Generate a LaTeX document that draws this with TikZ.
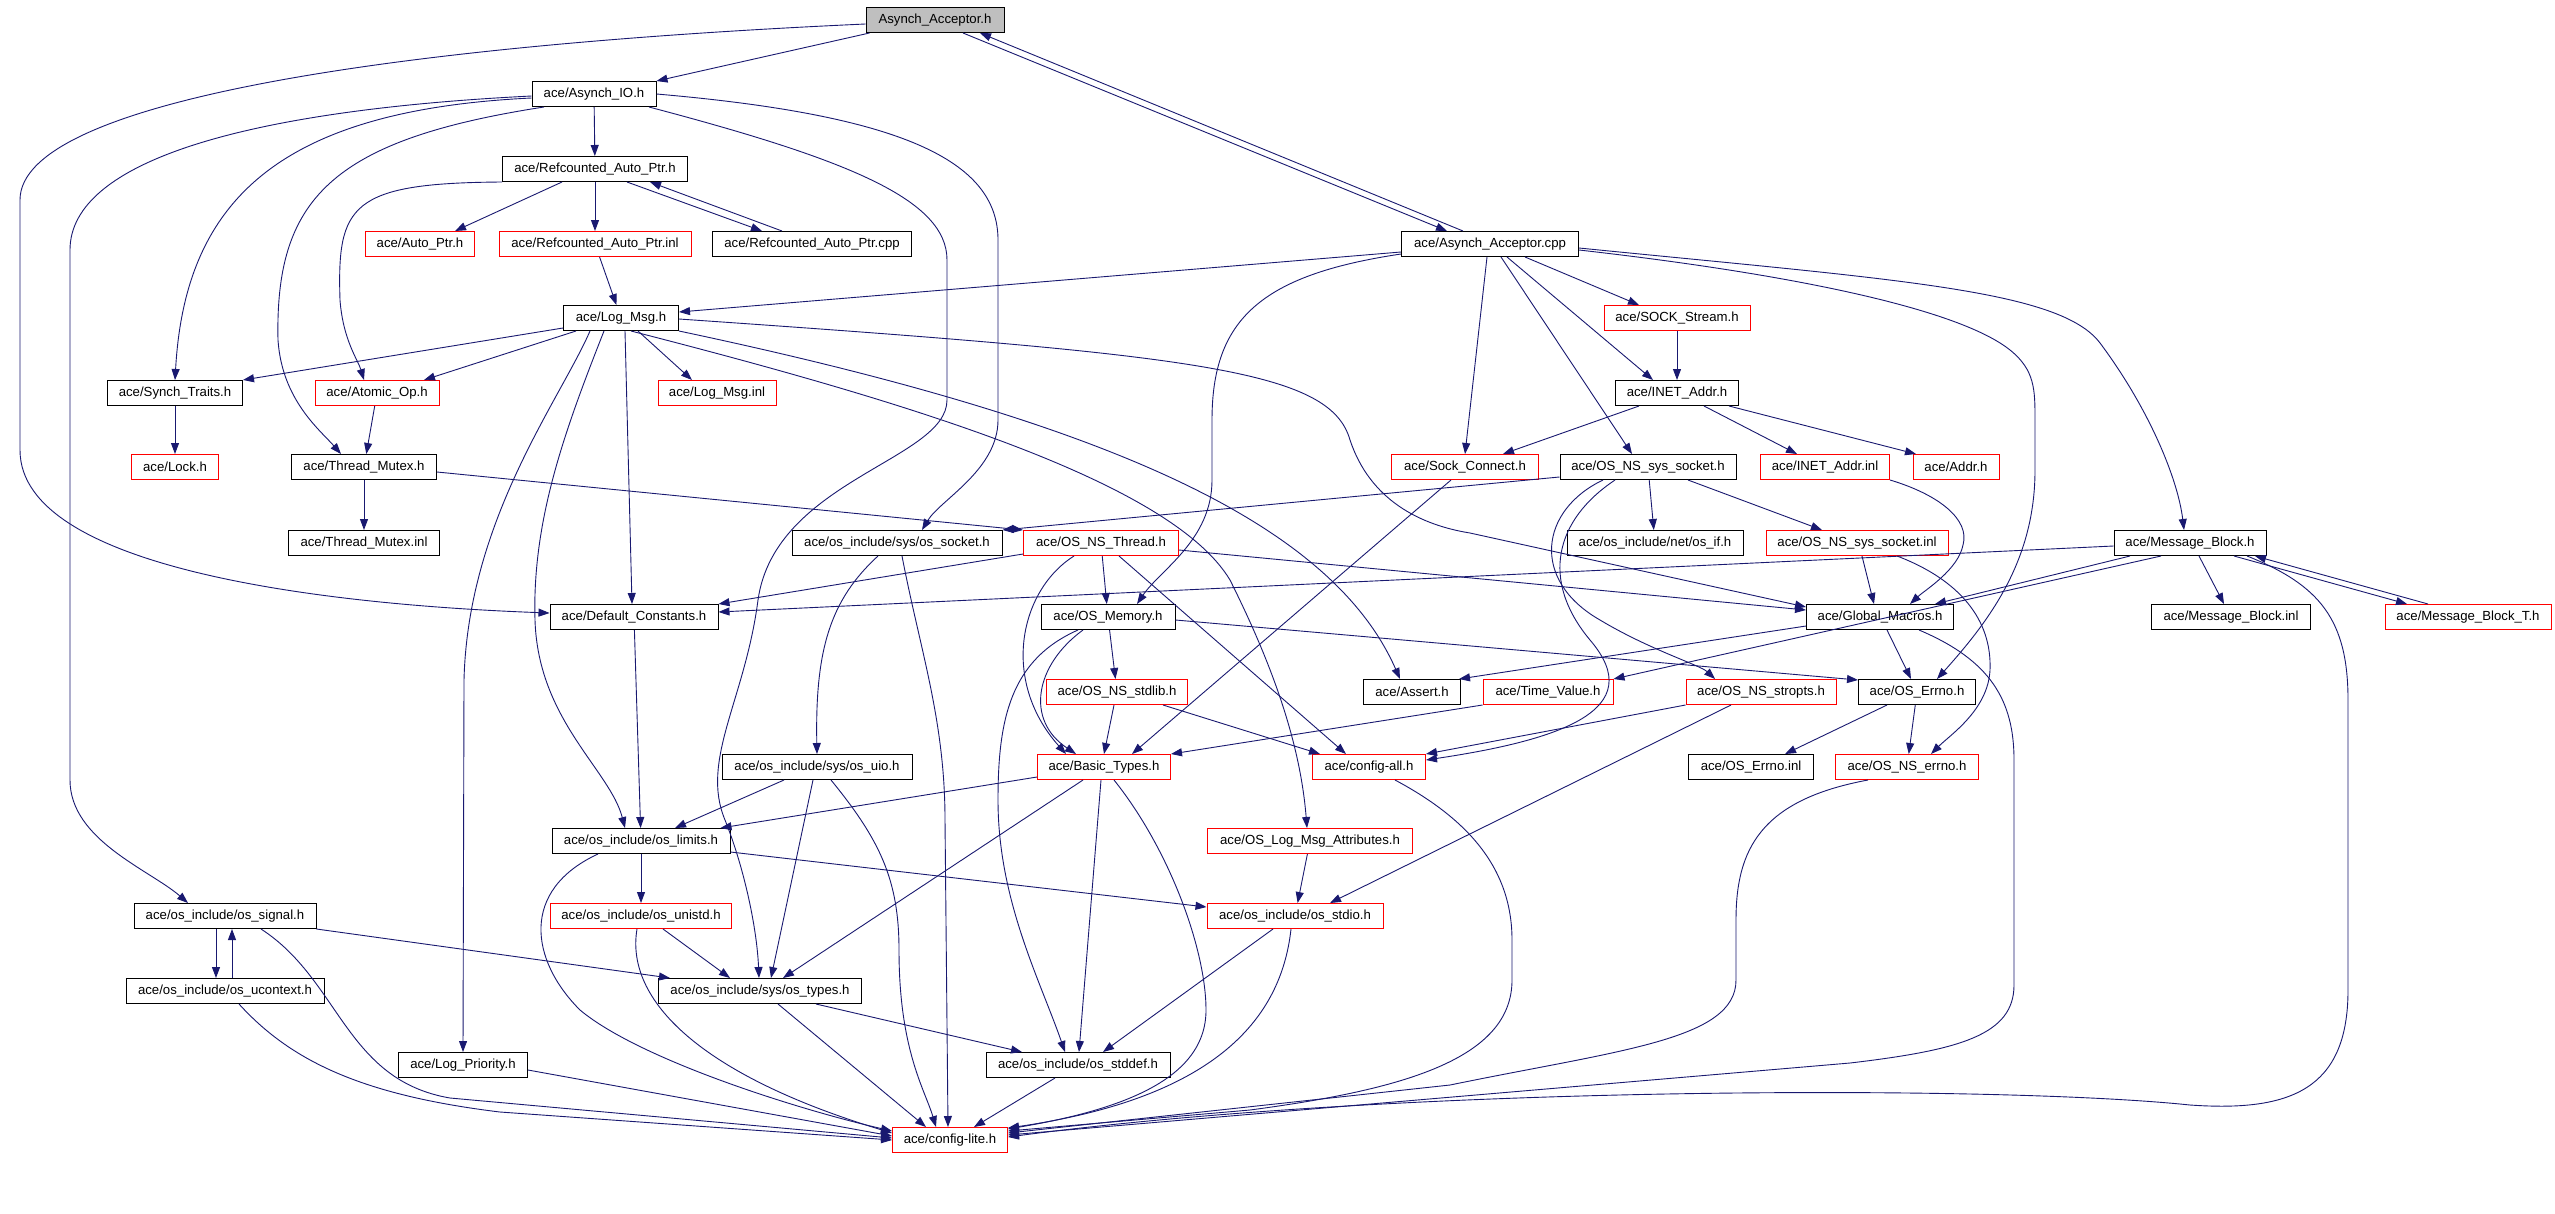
\documentclass[tikz,border=0pt]{standalone}
\usepackage{fontspec}
\setmainfont{Liberation Sans}
\usetikzlibrary{arrows.meta}
\definecolor{mblue}{HTML}{191970}
\definecolor{boxgray}{HTML}{BFBFBF}
\newcommand\nodefont{\fontsize{13.2}{15}\selectfont}
\begin{document}
\begin{tikzpicture}[x=1pt,y=-1pt,
  box/.style={draw=black,fill=white,line width=1pt,minimum height=25pt,inner sep=0pt,font=\nodefont},
  rbox/.style={box,draw=red},
  e/.style={draw=mblue,line width=0.9pt,-{Triangle[length=11pt,width=8pt]}}]
\useasboundingbox[fill=white] (0,0) rectangle (2555,1213);
% row 0-4
\node[box,fill=boxgray,minimum width=138pt] (AAh) at (935,20) {Asynch\_Acceptor.h};
\node[box,minimum width=124pt] (AIO) at (594,94) {ace/Asynch\_IO.h};
\node[box,minimum width=185pt] (RAPh) at (595,169) {ace/Refcounted\_Auto\_Ptr.h};
\node[rbox,minimum width=109pt] (AutoPtr) at (420,244) {ace/Auto\_Ptr.h};
\node[rbox,minimum width=192pt] (RAPinl) at (595,244) {ace/Refcounted\_Auto\_Ptr.inl};
\node[box,minimum width=199pt] (RAPcpp) at (812,244) {ace/Refcounted\_Auto\_Ptr.cpp};
\node[box,minimum width=177pt] (AAcpp) at (1490,244) {ace/Asynch\_Acceptor.cpp};
\node[box,minimum width=115pt] (LogMsg) at (621,318) {ace/Log\_Msg.h};
\node[rbox,minimum width=146pt] (SOCKStream) at (1677,318) {ace/SOCK\_Stream.h};
% row 5
\node[box,minimum width=135pt] (SynchTraits) at (175,393) {ace/Synch\_Traits.h};
\node[rbox,minimum width=124pt] (AtomicOp) at (377,393) {ace/Atomic\_Op.h};
\node[rbox,minimum width=118pt] (LogMsgInl) at (717,393) {ace/Log\_Msg.inl};
\node[box,minimum width=123pt] (INETAddr) at (1677,393) {ace/INET\_Addr.h};
% row 6
\node[rbox,minimum width=87pt] (Lock) at (175,467) {ace/Lock.h};
\node[box,minimum width=145pt] (ThreadMutex) at (364,467) {ace/Thread\_Mutex.h};
\node[rbox,minimum width=147pt] (SockConnect) at (1465,467) {ace/Sock\_Connect.h};
\node[box,minimum width=176pt] (OSNSsyssock) at (1648,467) {ace/OS\_NS\_sys\_socket.h};
\node[rbox,minimum width=129pt] (INETAddrInl) at (1825,467) {ace/INET\_Addr.inl};
\node[rbox,minimum width=86pt] (Addr) at (1956,467) {ace/Addr.h};
% row 7
\node[box,minimum width=151pt] (ThreadMutexInl) at (364,543) {ace/Thread\_Mutex.inl};
\node[box,minimum width=210pt] (ossocket) at (897,543) {ace/os\_include/sys/os\_socket.h};
\node[rbox,minimum width=155pt] (OSNSThread) at (1101,543) {ace/OS\_NS\_Thread.h};
\node[box,minimum width=176pt] (osif) at (1655,543) {ace/os\_include/net/os\_if.h};
\node[rbox,minimum width=182pt] (OSNSsyssockinl) at (1857,543) {ace/OS\_NS\_sys\_socket.inl};
\node[box,minimum width=152pt] (MessageBlock) at (2190,543) {ace/Message\_Block.h};
% row 8
\node[box,minimum width=168pt] (DC) at (634,617) {ace/Default\_Constants.h};
\node[box,minimum width=134pt] (OSMemory) at (1108,617) {ace/OS\_Memory.h};
\node[box,minimum width=147pt] (GlobalMacros) at (1880,617) {ace/Global\_Macros.h};
\node[box,minimum width=159pt] (MBinl) at (2231,617) {ace/Message\_Block.inl};
\node[rbox,minimum width=166pt] (MBT) at (2468,617) {ace/Message\_Block\_T.h};
% row 9
\node[rbox,minimum width=141pt] (OSNSstdlib) at (1117,692) {ace/OS\_NS\_stdlib.h};
\node[box,minimum width=97pt] (Assert) at (1412,692) {ace/Assert.h};
\node[rbox,minimum width=130pt] (TimeValue) at (1548,692) {ace/Time\_Value.h};
\node[rbox,minimum width=150pt] (OSNSstropts) at (1761,692) {ace/OS\_NS\_stropts.h};
\node[box,minimum width=117pt] (OSErrno) at (1917,692) {ace/OS\_Errno.h};
% row 10
\node[box,minimum width=190pt] (osuio) at (817,767) {ace/os\_include/sys/os\_uio.h};
\node[rbox,minimum width=133pt] (BasicTypes) at (1104,767) {ace/Basic\_Types.h};
\node[rbox,minimum width=113pt] (configall) at (1369,767) {ace/config-all.h};
\node[box,minimum width=125pt] (OSErrnoInl) at (1751,767) {ace/OS\_Errno.inl};
\node[rbox,minimum width=143pt] (OSNSerrno) at (1907,767) {ace/OS\_NS\_errno.h};
% row 11-15
\node[box,minimum width=178pt] (oslimits) at (641,841) {ace/os\_include/os\_limits.h};
\node[rbox,minimum width=205pt] (OSLogMsgAttr) at (1310,841) {ace/OS\_Log\_Msg\_Attributes.h};
\node[box,minimum width=182pt] (ossignal) at (225,916) {ace/os\_include/os\_signal.h};
\node[rbox,minimum width=181pt] (osunistd) at (641,916) {ace/os\_include/os\_unistd.h};
\node[rbox,minimum width=176pt] (osstdio) at (1295,916) {ace/os\_include/os\_stdio.h};
\node[box,minimum width=198pt] (osucontext) at (225,991) {ace/os\_include/os\_ucontext.h};
\node[box,minimum width=203pt] (ostypes) at (760,991) {ace/os\_include/sys/os\_types.h};
\node[box,minimum width=129pt] (LogPriority) at (463,1065) {ace/Log\_Priority.h};
\node[box,minimum width=184pt] (osstddef) at (1078,1065) {ace/os\_include/os\_stddef.h};
\node[rbox,minimum width=115pt] (configlite) at (950,1140) {ace/config-lite.h};

% ---- edges ----
% Asynch_Acceptor.h
\draw[e] ([xshift=4]AAh.south west) -- (AIO.north east);
\draw[e] ([yshift=-4]AAh.west) .. controls (400,45) and (20,100) .. (20,200) -- (20,450) .. controls (20,570) and (330,605) .. ([yshift=4]DC.west);
\draw[e] ([xshift=28]AAh.south) -- ([xshift=-43]AAcpp.north);
\draw[e] ([xshift=-27]AAcpp.north) -- ([xshift=45]AAh.south);
% Asynch_IO.h
\draw[e] (AIO) -- (RAPh);
\draw[e] ([yshift=-4]AIO.west) .. controls (280,110) and (185,200) .. (SynchTraits.north);
\draw[e] ([xshift=-50]AIO.south) .. controls (330,140) and (275,200) .. (278,340) .. controls (282,400) and (320,430) .. ([xshift=-23]ThreadMutex.north);
\draw[e] ([yshift=-2]AIO.west) .. controls (250,110) and (70,160) .. (70,250) -- (70,780) .. controls (70,840) and (150,870) .. ([xshift=-37]ossignal.north);
\draw[e] ([xshift=55]AIO.south) .. controls (850,160) and (947,200) .. (947,260) -- (947,400) .. controls (947,460) and (775,480) .. (758,600) .. controls (745,700) and (700,760) .. (725,820) .. controls (745,870) and (757,930) .. ([xshift=-1]ostypes.north);
\draw[e] (AIO.east) .. controls (900,115) and (998,160) .. (998,240) -- (998,420) .. controls (998,470) and (940,500) .. ([xshift=25]ossocket.north);
% Refcounted_Auto_Ptr.h
\draw[e] ([xshift=-33]RAPh.south) -- ([xshift=35]AutoPtr.north);
\draw[e] (RAPh) -- (RAPinl);
\draw[e] ([xshift=32]RAPh.south) -- ([xshift=-50]RAPcpp.north);
\draw[e] ([xshift=-30]RAPcpp.north) -- ([xshift=55]RAPh.south);
\draw[e] (RAPh.south west) .. controls (350,183) and (337,205) .. (340,300) .. controls (343,340) and (358,360) .. ([xshift=-13]AtomicOp.north);
\draw[e] (RAPinl) -- (LogMsg);
% Log_Msg.h
\draw[e] ([yshift=-10]LogMsg.west) -- (SynchTraits.north east);
\draw[e] ([xshift=-45]LogMsg.south) -- ([xshift=47]AtomicOp.north);
\draw[e] ([xshift=17]LogMsg.south) -- ([xshift=-25]LogMsgInl.north);
\draw[e] ([xshift=4]LogMsg.south) -- ([xshift=-2]DC.north);
\draw[e] ([xshift=-31]LogMsg.south) .. controls (560,400) and (468,520) .. (464,680) -- (LogPriority.north);
\draw[e] ([xshift=-17]LogMsg.south) .. controls (565,430) and (532,520) .. (535,620) .. controls (538,720) and (610,770) .. ([xshift=-16]oslimits.north);
\draw[e] ([yshift=-1]LogMsg.east) .. controls (1200,355) and (1330,370) .. (1350,440) .. controls (1370,500) and (1420,525) .. (1470,533) -- ([yshift=10]GlobalMacros.west);
\draw[e] (LogMsg.south east) .. controls (1100,420) and (1330,520) .. ([xshift=-12]Assert.north);
\draw[e] ([xshift=10]LogMsg.south) .. controls (900,400) and (1170,480) .. (1230,580) .. controls (1270,660) and (1300,740) .. ([xshift=-3]OSLogMsgAttr.north);
% misc left
\draw[e] (AtomicOp) -- (ThreadMutex);
\draw[e] (SynchTraits) -- (Lock);
\draw[e] (ThreadMutex) -- (ThreadMutexInl);
\draw[e] ([yshift=-5]ThreadMutex.east) -- (OSNSThread.north west);
% Asynch_Acceptor.cpp
\draw[e] ([yshift=-8]AAcpp.west) -- ([yshift=6]LogMsg.east);
\draw[e] ([yshift=-10]AAcpp.west) .. controls (1260,275) and (1212,320) .. (1212,420) -- (1212,480) .. controls (1212,540) and (1160,570) .. ([xshift=29]OSMemory.north);
\draw[e] ([xshift=-3]AAcpp.south) -- (SockConnect.north);
\draw[e] ([xshift=11]AAcpp.south) -- ([xshift=-16]OSNSsyssock.north);
\draw[e] ([xshift=17]AAcpp.south) -- ([xshift=-24]INETAddr.north);
\draw[e] ([xshift=35]AAcpp.south) -- ([xshift=-38]SOCKStream.north);
\draw[e] ([yshift=-4]AAcpp.east) .. controls (1900,280) and (2060,290) .. (2100,343) .. controls (2150,410) and (2178,480) .. ([xshift=-6]MessageBlock.north);
\draw[e] ([yshift=-6]AAcpp.east) .. controls (1800,275) and (1960,310) .. (2010,350) .. controls (2035,370) and (2035,390) .. (2035,420) -- (2035,470) .. controls (2035,560) and (1990,620) .. ([xshift=20]OSErrno.north);
% INET_Addr
\draw[e] (SOCKStream) -- (INETAddr);
\draw[e] ([xshift=-38]INETAddr.south) -- ([xshift=38]SockConnect.north);
\draw[e] ([xshift=27]INETAddr.south) -- ([xshift=-28]INETAddrInl.north);
\draw[e] ([xshift=52]INETAddr.south) -- ([xshift=-40]Addr.north);
% OS_NS_sys_socket.h
\draw[e] ([yshift=-10]OSNSsyssock.west) -- (ossocket.north east);
\draw[e] (OSNSsyssock) -- (osif);
\draw[e] ([xshift=40]OSNSsyssock.south) -- ([xshift=-35]OSNSsyssockinl.north);
\draw[e] ([xshift=-45]OSNSsyssock.south) .. controls (1540,510) and (1530,580) .. (1600,620) .. controls (1650,650) and (1700,665) .. ([xshift=-46]OSNSstropts.north);
\draw[e] ([xshift=-33]OSNSsyssock.south) .. controls (1555,520) and (1540,580) .. (1590,640) .. controls (1650,710) and (1560,740) .. ([yshift=7]configall.east);
\draw[e] ([xshift=5]OSNSsyssockinl.south) -- ([xshift=-6]GlobalMacros.north);
\draw[e] ([xshift=40]OSNSsyssockinl.south) .. controls (1960,580) and (1992,620) .. (1990,670) .. controls (1988,710) and (1950,735) .. ([xshift=24]OSNSerrno.north);
\draw[e] (INETAddrInl.south east) .. controls (1940,495) and (1970,520) .. (1963,545) .. controls (1958,570) and (1925,590) .. ([xshift=30]GlobalMacros.north);
\draw[e] ([xshift=-14]SockConnect.south) -- ([xshift=28]BasicTypes.north);
% OS_NS_Thread.h
\draw[e] ([yshift=-11]OSNSThread.west) -- (DC.north east);
\draw[e] (OSNSThread) -- (OSMemory);
\draw[e] ([xshift=-27]OSNSThread.south) .. controls (1020,590) and (1000,680) .. ([xshift=-38]BasicTypes.north);
\draw[e] ([xshift=18]OSNSThread.south) -- ([xshift=-23]configall.north);
\draw[e] ([yshift=-7]OSNSThread.east) -- ([yshift=7]GlobalMacros.west);
% OS_Memory.h
\draw[e] (OSMemory) -- (OSNSstdlib);
\draw[e] ([xshift=-25]OSMemory.south) .. controls (1035,665) and (1025,720) .. ([xshift=-28]BasicTypes.north);
\draw[e] ([xshift=-30]OSMemory.south) .. controls (1010,660) and (998,720) .. (998,800) .. controls (998,900) and (1040,980) .. ([xshift=-13]osstddef.north);
\draw[e] ([yshift=-3]OSMemory.east) -- ([yshift=12]OSErrno.west);
\draw[e] ([xshift=-3]OSNSstdlib.south) -- (BasicTypes.north);
\draw[e] ([xshift=46]OSNSstdlib.south) -- ([xshift=-49]configall.north);
% Message_Block.h
\draw[e] ([yshift=-3]MessageBlock.west) -- ([yshift=5]DC.east);
\draw[e] ([xshift=-60]MessageBlock.south) -- ([xshift=55]GlobalMacros.north);
\draw[e] ([xshift=-29]MessageBlock.south) -- (TimeValue.north east);
\draw[e] ([xshift=9]MessageBlock.south) -- ([xshift=-7]MBinl.north);
\draw[e] ([xshift=44]MessageBlock.south) -- ([xshift=-61]MBT.north);
\draw[e] ([xshift=-40]MBT.north) -- ([xshift=65]MessageBlock.south);
\draw[e] ([xshift=57]MessageBlock.south) .. controls (2320,585) and (2348,620) .. (2348,700) -- (2348,990) .. controls (2348,1090) and (2290,1112) .. (2190,1105) .. controls (2000,1085) and (1400,1085) .. ([yshift=3]configlite.east);
% Global_Macros.h
\draw[e] ([yshift=-9]GlobalMacros.west) -- ([xshift=-2]Assert.north east);
\draw[e] ([xshift=7]GlobalMacros.south) -- ([xshift=-6]OSErrno.north);
\draw[e] ([xshift=39]GlobalMacros.south) .. controls (1990,660) and (2014,700) .. (2014,760) -- (2014,985) .. controls (2014,1035) and (1960,1050) .. (1850,1063) -- ([yshift=5]configlite.east);
% others right
\draw[e] (TimeValue.south west) -- (BasicTypes.north east);
\draw[e] (OSNSstropts.south west) -- (configall.north east);
\draw[e] ([xshift=-30]OSNSstropts.south) -- ([xshift=35]osstdio.north);
\draw[e] ([xshift=-30]OSErrno.south) -- ([xshift=34]OSErrnoInl.north);
\draw[e] (OSErrno) -- (OSNSerrno);
\draw[e] ([xshift=-39]OSNSerrno.south) .. controls (1760,800) and (1736,850) .. (1736,920) -- (1736,980) .. controls (1736,1040) and (1620,1050) .. (1450,1085) -- ([yshift=7]configlite.east);
\draw[e] ([xshift=26]configall.south) .. controls (1470,820) and (1512,870) .. (1512,940) -- (1512,980) .. controls (1512,1060) and (1400,1090) .. (1250,1110) -- ([yshift=9]configlite.east);
\draw[e] ([xshift=-4]osstdio.south) .. controls (1280,1030) and (1200,1100) .. ([yshift=12]configlite.east);
\draw[e] ([xshift=10]BasicTypes.south) .. controls (1170,850) and (1206,950) .. (1206,1010) .. controls (1206,1080) and (1120,1110) .. ([yshift=11]configlite.east);
\draw[e] (OSLogMsgAttr) -- (osstdio);
\draw[e] ([xshift=-22]osstdio.south) -- ([xshift=25]osstddef.north);
% lower left
\draw[e] (DC) -- (oslimits);
\draw[e] (oslimits) -- (osunistd);
\draw[e] ([yshift=-11]oslimits.east) -- ([yshift=9]osstdio.west);
\draw[e] ([xshift=-43]oslimits.south) .. controls (520,890) and (530,960) .. (580,1010) .. controls (640,1060) and (800,1110) .. ([yshift=9]configlite.west);
\draw[e] ([xshift=-33]osuio.south) -- ([xshift=34]oslimits.north);
\draw[e] ([xshift=-4]osuio.south) -- ([xshift=11]ostypes.north);
\draw[e] ([xshift=14]osuio.south) .. controls (880,840) and (899,880) .. (899,950) .. controls (899,1050) and (925,1090) .. ([xshift=-14]configlite.north);
\draw[e] ([xshift=-19]ossocket.south) .. controls (830,600) and (815,650) .. (osuio.north);
\draw[e] ([xshift=5]ossocket.south) .. controls (920,650) and (945,720) .. (945,820) -- ([xshift=-2]configlite.north);
\draw[e] ([yshift=-10]BasicTypes.west) -- ([xshift=-10]oslimits.north east);
\draw[e] ([xshift=-21]BasicTypes.south) -- ([xshift=23]ostypes.north);
\draw[e] ([xshift=-3]BasicTypes.south) -- ([xshift=1]osstddef.north);
\draw[e] ([xshift=22]osunistd.south) -- ([xshift=-30]ostypes.north);
\draw[e] ([xshift=-4]osunistd.south) .. controls (625,1000) and (700,1075) .. ([yshift=7]configlite.west);
\draw[e] ([xshift=-9]ossignal.south) -- ([xshift=-9]osucontext.north);
\draw[e] ([xshift=7]osucontext.north) -- ([xshift=7]ossignal.south);
\draw[e] (ossignal.south east) -- ([xshift=-90]ostypes.north);
\draw[e] ([xshift=36]ossignal.south) .. controls (340,980) and (345,1080) .. (450,1098) -- ([yshift=2]configlite.west);
\draw[e] ([xshift=14]osucontext.south) .. controls (290,1060) and (360,1095) .. (500,1112) -- (configlite.west);
\draw[e] ([yshift=-5]LogPriority.east) -- ([yshift=4]configlite.west);
\draw[e] ([xshift=56]ostypes.south) -- ([xshift=-56]osstddef.north);
\draw[e] ([xshift=18]ostypes.south) -- ([xshift=-24]configlite.north);
\draw[e] ([xshift=-23]osstddef.south) -- ([xshift=24]configlite.north);
\end{tikzpicture}
\end{document}
